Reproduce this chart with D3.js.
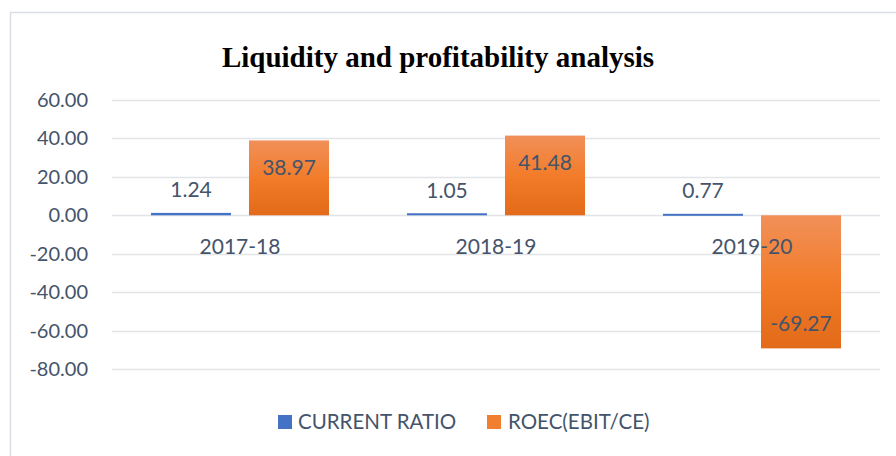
<!DOCTYPE html>
<html><head><meta charset="utf-8">
<script src="https://cdn.jsdelivr.net/npm/d3@7"></script>
<style>body{margin:0;background:#fff}</style>
</head><body>
<script>
const categories = ["2017-18", "2018-19", "2019-20"];
const seriesNames = ["CURRENT RATIO", "ROEC(EBIT/CE)"];
const currentRatio = [1.24, 1.05, 0.77];
const roec = [38.97, 41.48, -69.27];
const yTicks = [60, 40, 20, 0, -20, -40, -60, -80];

const W = 896, H = 456;
const svg = d3.select("body").append("svg").attr("width", W).attr("height", H);
const font = "Lato, 'Noto Sans', sans-serif";
const txt = "#44546A";
const fmt = v => d3.format(".2f")(v).replace("\u2212", "-");

svg.append("rect").attr("x", 0).attr("y", 0).attr("width", W).attr("height", H).attr("fill", "#fff");
svg.append("rect").attr("x", 10.5).attr("y", 12.5).attr("width", W + 20).attr("height", H + 20)
  .attr("fill", "#fff").attr("stroke", "#d9dde3").attr("stroke-width", 1.5);

const defs = svg.append("defs");
const g1 = defs.append("linearGradient").attr("id", "og").attr("x1", 0).attr("y1", 0).attr("x2", 0).attr("y2", 1);
g1.append("stop").attr("offset", "0%").attr("stop-color", "#F19059");
g1.append("stop").attr("offset", "50%").attr("stop-color", "#F27C2A");
g1.append("stop").attr("offset", "100%").attr("stop-color", "#E26A18");

const x0 = d3.scaleBand().domain(categories).range([112, 880]);
const y = d3.scaleLinear().domain([-80, 60]).range([369, 100]);

svg.append("g").selectAll("line").data(yTicks).join("line")
  .attr("x1", 112).attr("x2", 880)
  .attr("y1", d => Math.round(y(d)) + 0.5).attr("y2", d => Math.round(y(d)) + 0.5)
  .attr("stroke", "#e1e4e8").attr("stroke-width", 1.5);

svg.append("g").selectAll("text").data(yTicks).join("text")
  .attr("x", 88).attr("y", d => y(d)).attr("dy", "0.35em")
  .attr("text-anchor", "end").attr("font-family", font).attr("font-size", 20).attr("fill", txt)
  .text(d => fmt(d));

const barW = 80, gap = 18;
svg.append("g").selectAll("rect").data(categories).join("rect")
  .attr("x", d => x0(d) + x0.bandwidth() / 2 - gap / 2 - barW)
  .attr("width", barW)
  .attr("y", (d, i) => Math.min(y(currentRatio[i]), y(0)))
  .attr("height", (d, i) => Math.max(2, Math.abs(y(currentRatio[i]) - y(0))))
  .attr("fill", "#4472C4");
svg.append("g").selectAll("rect").data(categories).join("rect")
  .attr("x", d => x0(d) + x0.bandwidth() / 2 + gap / 2)
  .attr("width", barW)
  .attr("y", (d, i) => Math.min(y(roec[i]), y(0)))
  .attr("height", (d, i) => Math.abs(y(roec[i]) - y(0)))
  .attr("fill", "url(#og)");

svg.append("g").selectAll("text").data(categories).join("text")
  .attr("x", d => x0(d) + x0.bandwidth() / 2).attr("y", 247).attr("dy", "0.35em")
  .attr("text-anchor", "middle").attr("font-family", font).attr("font-size", 21).attr("fill", txt)
  .text(d => d);

svg.append("g").selectAll("text").data(categories).join("text")
  .attr("x", d => x0(d) + x0.bandwidth() / 2 - gap / 2 - barW / 2)
  .attr("y", (d, i) => y(currentRatio[i]) - 23).attr("dy", "0.35em")
  .attr("text-anchor", "middle").attr("font-family", font).attr("font-size", 21).attr("fill", txt)
  .text((d, i) => fmt(currentRatio[i]));
svg.append("g").selectAll("text").data(categories).join("text")
  .attr("x", d => x0(d) + x0.bandwidth() / 2 + gap / 2 + barW / 2)
  .attr("y", (d, i) => roec[i] >= 0 ? y(roec[i]) + 27 : y(roec[i]) - 25).attr("dy", "0.35em")
  .attr("text-anchor", "middle").attr("font-family", font).attr("font-size", 21).attr("fill", txt)
  .text((d, i) => fmt(roec[i]));

svg.append("text").attr("x", 438).attr("y", 57).attr("dy", "0.35em").attr("text-anchor", "middle")
  .attr("font-family", "'Liberation Serif', 'Times New Roman', serif").attr("font-weight", "bold")
  .attr("font-size", 29).attr("fill", "#000").text("Liquidity and profitability analysis");

const legendItems = [
  {name: seriesNames[0], color: "#4472C4", sx: 278, tx: 298},
  {name: seriesNames[1], color: "#F07F30", sx: 487, tx: 508}
];
const lg = svg.append("g").selectAll("g").data(legendItems).join("g");
lg.append("rect").attr("x", d => d.sx).attr("y", 415).attr("width", 14).attr("height", 14).attr("fill", d => d.color);
lg.append("text").attr("x", d => d.tx).attr("y", 422).attr("dy", "0.35em")
  .attr("font-family", font).attr("font-size", 20.5).attr("fill", txt).text(d => d.name);
</script>
</body></html>
